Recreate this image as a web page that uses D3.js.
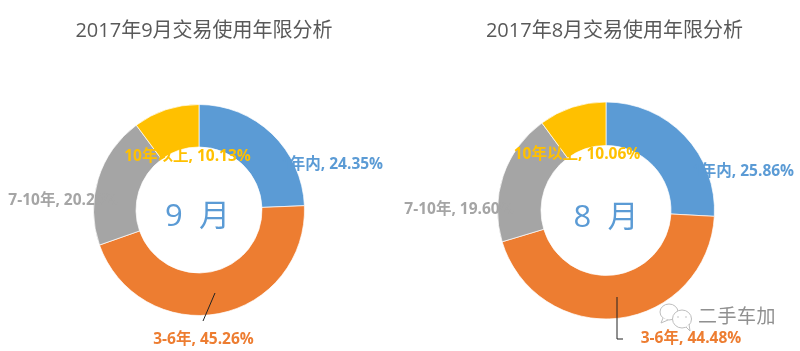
<!DOCTYPE html>
<html lang="zh">

<head>
    <meta charset="UTF-8">
    <title>交易使用年限分析</title>
    <script src="https://d3js.org/d3.v7.min.js"></script>
    <style>
        html, body { margin: 0; padding: 0; background: #fff; }
        svg { display: block; filter: blur(0.4px); }
        text { font-family: "Open Sans", "Noto Sans CJK SC", sans-serif; }
    </style>
</head>

<body>
    <div id="chart"></div>

    <script>
        // Values
        const categories = ["1年内", "3-6年", "7-10年", "10年以上"];
        const colors = ["#5b9bd5", "#ed7d31", "#a5a5a5", "#ffc000"];
        const septValues = [24.35, 45.26, 20.26, 10.13];
        const augValues = [25.86, 44.48, 19.60, 10.06];
        const titles = ["2017年9月交易使用年限分析", "2017年8月交易使用年限分析"];
        const monthLabels = ["9\u00a0\u00a0月", "8\u00a0\u00a0月"];

        const width = 800;
        const height = 351;

        const svg = d3.select("#chart")
            .append("svg")
            .attr("width", width)
            .attr("height", height);

        // Layout of each donut, label offsets are from the centre of the ring
        const panels = [
            {
                values: septValues, title: titles[0], month: monthLabels[0],
                cx: 199, cy: 210, outer: 105.5, inner: 63, titleX: 204, monthX: -1.5,
                labels: [[133, -41], [4.5, 134], [-136, -5], [-11.5, -49]],
                leader: [[16, 83], [4, 111]]
            },
            {
                values: augValues, title: titles[1], month: monthLabels[1],
                cx: 606, cy: 210.5, outer: 108.5, inner: 65, titleX: 614.5, monthX: 0,
                labels: [[137, -34.5], [85, 132.5], [-147, 3.5], [-29, -51.5]],
                leader: [[11, 86.5], [11, 128.5], [17, 128.5]]
            }
        ];

        const pie = d3.pie().sort(null).value(d => d);
        const color = d3.scaleOrdinal().domain(categories).range(colors);

        panels.forEach(p => {
            const g = svg.append("g")
                .attr("transform", "translate(" + p.cx + "," + p.cy + ")");

            const arc = d3.arc().innerRadius(p.inner).outerRadius(p.outer);

            g.selectAll("path.slice")
                .data(pie(p.values))
                .join("path")
                .attr("class", "slice")
                .attr("d", arc)
                .attr("fill", (d, i) => color(categories[i]))
                .attr("stroke", "#fff")
                .attr("stroke-width", 0.7);

            // Leader line of the 3-6年 label
            g.append("path")
                .attr("d", d3.line()(p.leader))
                .attr("fill", "none")
                .attr("stroke", "#222")
                .attr("stroke-width", 1);

            // Data labels go on top of the ring, same colour as their slice
            g.selectAll("text.label")
                .data(p.values)
                .join("text")
                .attr("class", "label")
                .attr("x", (d, i) => p.labels[i][0])
                .attr("y", (d, i) => p.labels[i][1])
                .attr("text-anchor", "middle")
                .attr("font-size", 15.5)
                .attr("font-weight", 700)
                .attr("fill", (d, i) => color(categories[i]))
                .text((d, i) => categories[i] + ", " + d.toFixed(2) + "%");

            g.append("text")
                .attr("x", p.monthX)
                .attr("y", 16)
                .attr("text-anchor", "middle")
                .attr("font-size", 31)
                .attr("fill", colors[0])
                .text(p.month);

            svg.append("text")
                .attr("x", p.titleX)
                .attr("y", 37)
                .attr("text-anchor", "middle")
                .attr("font-size", 20)
                .attr("fill", "#595959")
                .text(p.title);
        });

        // Watermark, bottom right
        const mark = svg.append("g")
            .attr("fill", "#fff")
            .attr("stroke", "#bdbdbd")
            .attr("stroke-width", 1);
        mark.append("ellipse").attr("cx", 669).attr("cy", 312).attr("rx", 9).attr("ry", 8);
        mark.append("path").attr("d", "M663,318L661,323L668,320");
        mark.append("ellipse").attr("cx", 682).attr("cy", 319).attr("rx", 9.5).attr("ry", 9);
        mark.append("path").attr("d", "M686,327L690,331L689,324");
        mark.selectAll("circle.eye")
            .data([[678, 317], [686, 317]])
            .join("circle")
            .attr("class", "eye")
            .attr("cx", d => d[0])
            .attr("cy", d => d[1])
            .attr("r", 0.8)
            .attr("fill", "#bdbdbd")
            .attr("stroke", "none");

        svg.append("text")
            .attr("x", 698)
            .attr("y", 323)
            .attr("font-size", 19)
            .attr("letter-spacing", 0.5)
            .attr("fill", "#909090")
            .text("二手车加");
    </script>
</body>

</html>
